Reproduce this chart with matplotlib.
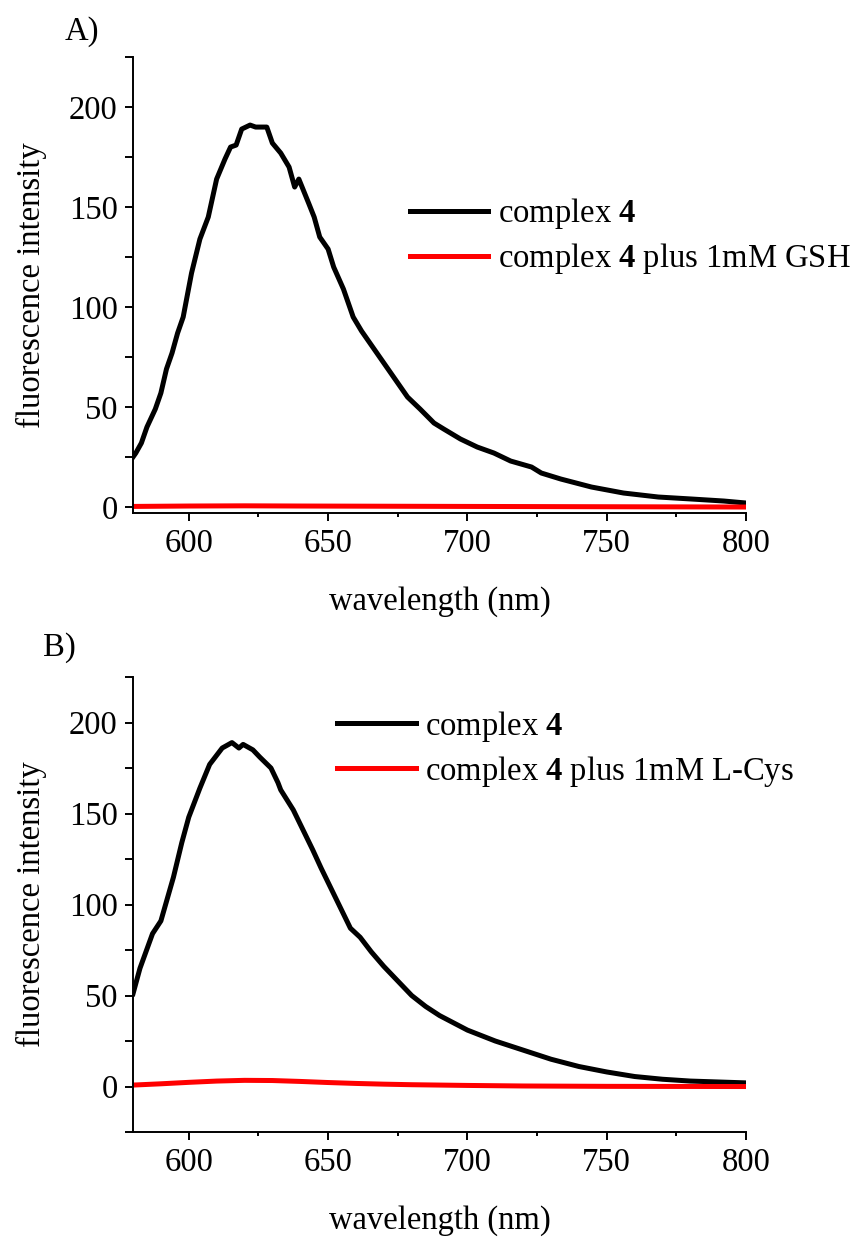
import matplotlib
matplotlib.use("Agg")
import matplotlib.pyplot as plt
from matplotlib.ticker import MultipleLocator

plt.rcParams['font.family'] = ['Liberation Serif', 'DejaVu Serif']
plt.rcParams['mathtext.fontset'] = 'custom'
plt.rcParams['mathtext.bf'] = 'Liberation Serif:bold'
plt.rcParams['mathtext.rm'] = 'Liberation Serif'

# Panel A - complex 4 and complex 4 + GSH
wl_a = [580, 581, 583, 585, 588, 590, 592, 594, 596, 598, 601, 604, 607, 610, 613,
        615, 617, 619, 622, 624, 626, 628, 630, 633, 636, 638, 639.5, 643, 645, 647,
        650, 652, 655.5, 659, 662, 666, 670, 673.5, 678.5, 683, 688, 691.5, 697.5,
        703.5, 709.5, 715.5, 723, 726.5, 733.5, 744.5, 756, 768.5, 780.5, 792, 800]
int_a = [25, 27, 32, 40, 49, 57, 69, 77, 87, 95, 117, 134, 145, 164, 174,
         180, 181, 189, 191, 190, 190, 190, 182, 177, 170, 160, 164, 152, 145, 135,
         129, 120, 109, 95, 88, 80, 72, 65, 55, 49, 42, 39, 34,
         30, 27, 23, 20, 17, 14, 10, 7, 5, 4, 3, 2]
wl_a_gsh = [580, 600, 620, 640, 700, 800]
int_a_gsh = [0.3, 0.5, 0.6, 0.5, 0.3, 0.0]

# Panel B - complex 4 and complex 4 + L-Cys
wl_b = [580, 582.5, 587, 590, 594.5, 597.5, 600, 604, 607.5, 612, 615.5, 618, 619.5,
        623, 625.5, 629.5, 632, 633, 637.5, 641, 644.5, 647.5, 651, 654.5, 658, 661.5,
        665.5, 670, 675, 680, 685, 690, 700, 710, 720, 730, 740, 750, 760, 770, 780,
        790, 800]
int_b = [51, 65, 84, 91, 115, 134, 148, 164, 177, 186, 189, 186, 188,
         185, 181, 175, 167, 163, 152, 141, 130, 120, 109, 98, 87, 82,
         74, 66, 58, 50, 44, 39, 31, 25, 20, 15, 11, 8, 5.5, 4, 3, 2.5, 2]
wl_b_cys = [580, 590, 600, 610, 620, 630, 640, 650, 660, 670, 680, 700, 720, 750, 800]
int_b_cys = [0.8, 1.5, 2.3, 3.0, 3.4, 3.3, 2.8, 2.2, 1.7, 1.3, 1.0, 0.6, 0.3, 0.1, 0.0]

FS = 23.5
LW = 3.6

fig = plt.figure(figsize=(8.66, 12.38), dpi=100)
ax_a = fig.add_axes([0.1536, 0.5856, 0.708, 0.3683])
ax_b = fig.add_axes([0.1536, 0.0856, 0.708, 0.3675])


def style_axis(ax, ymin):
    ax.set_xlim(580, 800)
    ax.set_ylim(ymin, 225)
    for side in ['top', 'right']:
        ax.spines[side].set_visible(False)
    for side in ['left', 'bottom']:
        ax.spines[side].set_linewidth(1.4)
    ax.xaxis.set_major_locator(MultipleLocator(50))
    ax.xaxis.set_minor_locator(MultipleLocator(25))
    ax.yaxis.set_major_locator(MultipleLocator(50))
    ax.yaxis.set_minor_locator(MultipleLocator(25))
    ax.tick_params(axis='both', which='major', direction='out', length=6, width=1.4,
                   labelsize=FS, pad=5)
    ax.tick_params(axis='x', which='minor', direction='out', length=3, width=1.4)
    ax.tick_params(axis='y', which='minor', direction='out', length=6, width=1.4)
    ax.set_xlabel("wavelength (nm)", fontsize=FS, labelpad=20)
    ax.set_ylabel("fluorescence intensity", fontsize=FS, labelpad=16)


ax_a.plot(wl_a, int_a, color='black', lw=LW, label=r"complex $\mathbf{4}$")
ax_a.plot(wl_a_gsh, int_a_gsh, color='#ff0000', lw=LW,
          label=r"complex $\mathbf{4}$ plus 1mM GSH")
style_axis(ax_a, -3)
ax_a.legend(loc='upper left', bbox_to_anchor=(0.452, 0.695), frameon=False, fontsize=FS,
            handlelength=2.4, handletextpad=0.3, labelspacing=0.3,
            borderpad=0, borderaxespad=0)

ax_b.plot(wl_b, int_b, color='black', lw=LW, label=r"complex $\mathbf{4}$")
ax_b.plot(wl_b_cys, int_b_cys, color='#ff0000', lw=LW,
          label=r"complex $\mathbf{4}$ plus 1mM L-Cys")
style_axis(ax_b, -25)
ax_b.legend(loc='upper left', bbox_to_anchor=(0.333, 0.93), frameon=False, fontsize=FS,
            handlelength=2.4, handletextpad=0.3, labelspacing=0.3,
            borderpad=0, borderaxespad=0)

fig.text(65 / 866, 1 - 32 / 1238, "A)", fontsize=FS, va='center', ha='left')
fig.text(43 / 866, 1 - 648 / 1238, "B)", fontsize=FS, va='center', ha='left')

fig.savefig("out.png", dpi=100)
